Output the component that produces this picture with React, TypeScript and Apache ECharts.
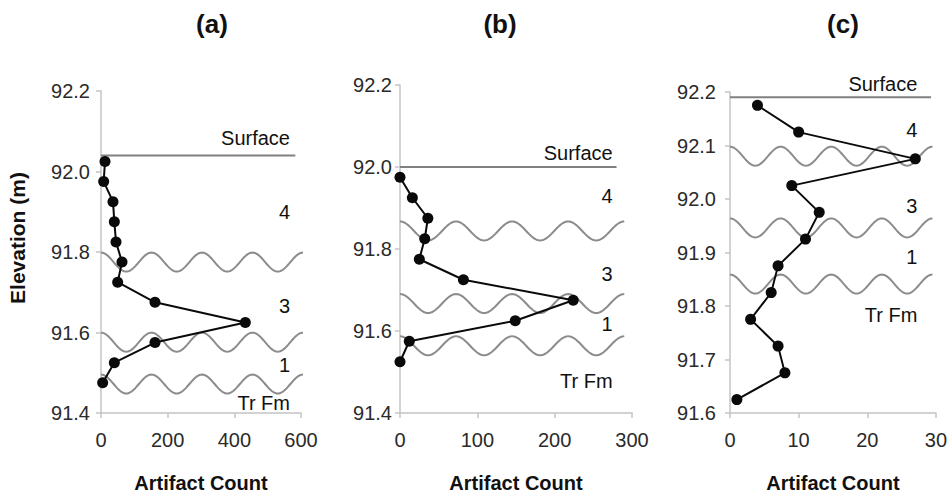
import React, { useEffect, useRef } from "react";
import * as echarts from "echarts";

// ---- Data ----
const elevA = [92.025, 91.975, 91.925, 91.875, 91.825, 91.775, 91.725, 91.675, 91.625, 91.575, 91.525, 91.475];
const countA = [12, 8, 36, 40, 45, 63, 50, 162, 433, 162, 40, 5];

const elevB = [91.975, 91.925, 91.875, 91.825, 91.775, 91.725, 91.675, 91.625, 91.575, 91.525];
const countB = [0, 16, 36, 32, 25, 82, 224, 149, 12, 0];

const elevC = [92.175, 92.125, 92.075, 92.025, 91.975, 91.925, 91.875, 91.825, 91.775, 91.725, 91.675, 91.625];
const countC = [4, 10, 27, 9, 13, 11, 7, 6, 3, 7, 8, 1];

// Stratigraphic surface and wavy contacts (elevation, m)
const surfaceElev = [92.04, 92.0, 92.19];
const contactsA = [91.775, 91.576, 91.472];
const contactsB = [91.844, 91.667, 91.564];
const contactsC = [92.08, 91.946, 91.841];

// Unit labels
const unitLabels = ["Surface", "4", "3", "1", "Tr Fm"];
const unitElevA = [92.083, 91.9, 91.667, 91.52, 91.425];
const unitElevB = [92.033, 91.929, 91.739, 91.618, 91.478];
const unitElevC = [92.215, 92.129, 91.987, 91.892, 91.783];

const panelTitles = ["(a)", "(b)", "(c)"];
const xTitle = "Artifact Count";
const yTitle = "Elevation (m)";

const FONT = "Liberation Sans, Arial, Helvetica, sans-serif";

type Panel = {
  left: number; top: number; width: number; height: number;
  xMax: number; xInterval: number; yMin: number; yMax: number; yInterval: number;
  elev: number[]; count: number[]; surface: number; surfaceEnd: number;
  contacts: number[]; waveEnd: number; labelX: number; labelElev: number[];
  yLabelMargin: number;
};

const panels: Panel[] = [
  { left: 101, top: 91, width: 200, height: 322, xMax: 600, xInterval: 200, yMin: 91.4, yMax: 92.2, yInterval: 0.2,
    elev: elevA, count: countA, surface: surfaceElev[0], surfaceEnd: 583, contacts: contactsA, waveEnd: 606,
    labelX: 567, labelElev: unitElevA, yLabelMargin: 11 },
  { left: 400, top: 85, width: 232, height: 330, xMax: 300, xInterval: 100, yMin: 91.4, yMax: 92.2, yInterval: 0.2,
    elev: elevB, count: countB, surface: surfaceElev[1], surfaceEnd: 280, contacts: contactsB, waveEnd: 290,
    labelX: 275, labelElev: unitElevB, yLabelMargin: 8 },
  { left: 730, top: 92, width: 207, height: 321, xMax: 30, xInterval: 10, yMin: 91.6, yMax: 92.2, yInterval: 0.1,
    elev: elevC, count: countC, surface: surfaceElev[2], surfaceEnd: 29.3, contacts: contactsC, waveEnd: 29.5,
    labelX: 27.3, labelElev: unitElevC, yLabelMargin: 14 },
];

const WAVE_CYCLES = 4;
const WAVE_AMP = 9.5;

function waveRender(waveEnd: number) {
  return (params: any, api: any) => {
    const c = api.value(1);
    const p0 = api.coord([0, c]);
    const p1 = api.coord([waveEnd, c]);
    const w = p1[0] - p0[0];
    const n = 160;
    const pts: number[][] = [];
    for (let i = 0; i <= n; i++) {
      const t = i / n;
      pts.push([p0[0] + t * w, p0[1] - WAVE_AMP * Math.cos(2 * Math.PI * WAVE_CYCLES * t)]);
    }
    return {
      type: "polyline",
      shape: { points: pts },
      style: { stroke: "#8c8c8c", lineWidth: 2, fill: null },
      silent: true,
    };
  };
}

export default function App() {
  const ref = useRef<HTMLDivElement>(null);
  useEffect(() => {
    if (!ref.current) return;
    const chart = echarts.init(ref.current, undefined, { renderer: "svg" });
    const grid: any[] = [];
    const xAxis: any[] = [];
    const yAxis: any[] = [];
    const series: any[] = [];
    panels.forEach((p, i) => {
      grid.push({ left: p.left, top: p.top, width: p.width, height: p.height, containLabel: false });
      xAxis.push({
        type: "value", gridIndex: i, min: 0, max: p.xMax, interval: p.xInterval,
        axisLine: { show: true, lineStyle: { color: "#c4c4c4", width: 1.5 } },
        axisTick: { show: true, length: 5, lineStyle: { color: "#c4c4c4", width: 1.5 } },
        splitLine: { show: false },
        axisLabel: { color: "#2a2a2a", fontSize: 20, fontFamily: FONT, margin: 17 },
        name: xTitle, nameLocation: "middle", nameGap: 60,
        nameTextStyle: { color: "#111", fontSize: 20, fontWeight: "bold", fontFamily: FONT },
      });
      yAxis.push({
        type: "value", gridIndex: i, min: p.yMin, max: p.yMax, interval: p.yInterval,
        axisLine: { show: true, lineStyle: { color: "#c4c4c4", width: 1.5 } },
        axisTick: { show: true, length: 5, lineStyle: { color: "#c4c4c4", width: 1.5 } },
        splitLine: { show: false },
        axisLabel: {
          color: "#2a2a2a", fontSize: 20, fontFamily: FONT, margin: p.yLabelMargin,
          formatter: (v: number) => v.toFixed(1),
        },
      });
      // wavy contacts
      series.push({
        type: "custom", xAxisIndex: i, yAxisIndex: i, clip: false,
        data: p.contacts.map((c) => [0, c]),
        encode: { x: 0, y: 1 },
        renderItem: waveRender(p.waveEnd),
        z: 1,
      });
      // surface
      series.push({
        type: "line", xAxisIndex: i, yAxisIndex: i, symbol: "none",
        data: [[0, p.surface], [p.surfaceEnd, p.surface]],
        lineStyle: { color: "#808080", width: 2 }, z: 1, silent: true,
      });
      // artifact counts
      series.push({
        type: "line", xAxisIndex: i, yAxisIndex: i,
        data: p.elev.map((e, k) => [p.count[k], e]),
        symbol: "circle", symbolSize: 11,
        itemStyle: { color: "#0a0a0a" },
        lineStyle: { color: "#0a0a0a", width: 2 },
        z: 3, clip: false,
      });
      // unit labels
      series.push({
        type: "scatter", xAxisIndex: i, yAxisIndex: i, symbolSize: 0, clip: false, silent: true,
        itemStyle: { opacity: 1 },
        data: unitLabels.map((t, k) => ({ name: t, value: [p.labelX, p.labelElev[k]] })),
        label: {
          show: true, position: "left", distance: 0, formatter: "{b}",
          color: "#111", fontSize: 20, fontFamily: FONT, opacity: 1,
        },
        z: 4,
      });
    });

    const titleX = [212, 500, 843];
    const graphic: any[] = panelTitles.map((t, i) => ({
      type: "text", x: titleX[i], y: 24,
      style: { text: t, align: "center", verticalAlign: "middle", font: `bold 26px ${FONT}`, fill: "#111" },
    }));
    graphic.push({
      type: "text", x: 17, y: 238, rotation: Math.PI / 2,
      style: { text: yTitle, align: "center", verticalAlign: "middle", font: `bold 21px ${FONT}`, fill: "#111" },
    });

    chart.setOption({
      animation: false,
      backgroundColor: "#fff",
      grid, xAxis, yAxis, series, graphic,
    });
    return () => chart.dispose();
  }, []);
  return <div ref={ref} style={{ width: 950, height: 498, position: "absolute", left: 0, top: 0 }} />;
}
